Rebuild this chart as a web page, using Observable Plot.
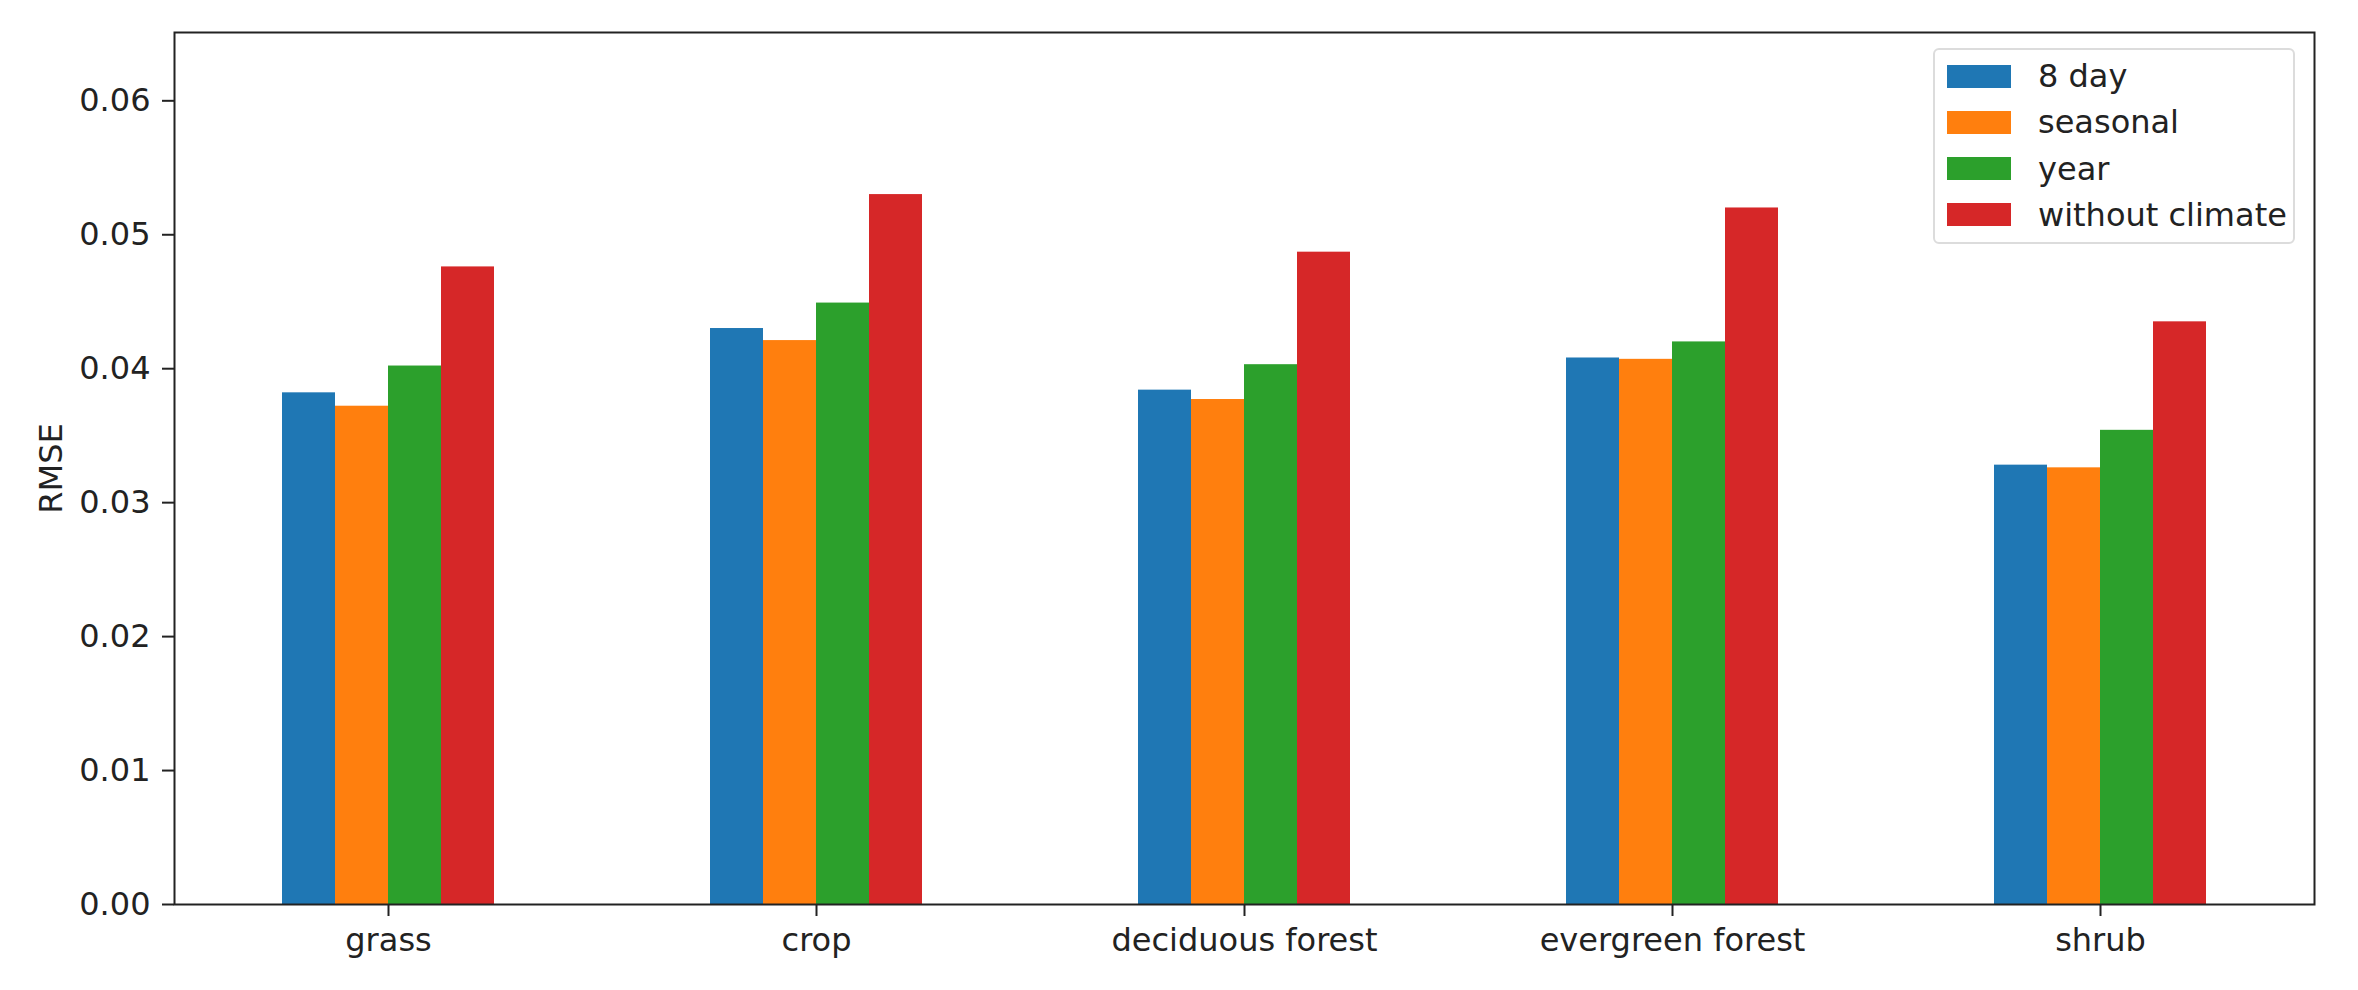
<!DOCTYPE html>
<html>
<head>
<meta charset="utf-8">
<script src="https://cdn.jsdelivr.net/npm/d3@7"></script>
<script src="https://cdn.jsdelivr.net/npm/@observablehq/plot@0.6"></script>
<style>
  html, body { margin: 0; padding: 0; background: #fff; }
  #wrap { position: relative; width: 2358px; height: 990px; font-family: "DejaVu Sans", sans-serif; }
  #legend {
    position: absolute; left: 1933px; top: 48px; width: 362px; height: 196px;
    border: 2px solid #dcdcdc; border-radius: 6px; background: rgba(255,255,255,0.85);
    box-sizing: border-box; padding: 0;
  }
  .item { position: absolute; left: 12px; height: 30px; display: flex; align-items: center; font-size: 32px; color: #222; }
  .swatch { width: 64px; height: 23px; margin-right: 27px; }
</style>
</head>
<body>
<div id="wrap"><div id="chart"></div><div id="legend"></div></div>
<script>
const categories = ["grass", "crop", "deciduous forest", "evergreen forest", "shrub"];
const series = ["8 day", "seasonal", "year", "without climate"];
const values8day = [0.0382, 0.0430, 0.0384, 0.0408, 0.0328];
const valuesSeasonal = [0.0372, 0.0421, 0.0377, 0.0407, 0.0326];
const valuesYear = [0.0402, 0.0449, 0.0403, 0.0420, 0.0354];
const valuesWithoutClimate = [0.0476, 0.0530, 0.0487, 0.0520, 0.0435];
const colors = ["#1f77b4", "#ff7f0e", "#2ca02c", "#d62728"];
const yTicks = [0, 0.01, 0.02, 0.03, 0.04, 0.05, 0.06];
const yMax = 0.0651;

const seriesValues = [values8day, valuesSeasonal, valuesYear, valuesWithoutClimate];
const rows = [];
categories.forEach((c, i) => {
  series.forEach((s, j) => rows.push({category: c, series: s, value: seriesValues[j][i]}));
});

const ink = "#222";
const chart = Plot.plot({
  width: 2358,
  height: 990,
  marginLeft: 172,
  marginRight: 43,
  marginTop: 32,
  marginBottom: 86,
  style: {fontFamily: "DejaVu Sans", fontSize: "32px", color: ink, background: "white", overflow: "visible"},
  fx: {domain: categories, padding: 0, label: null},
  x: {domain: series, paddingInner: 0, paddingOuter: 2, axis: null},
  y: {domain: [0, yMax]},
  color: {domain: series, range: colors},
  marks: [
    Plot.barY(rows, {fx: "category", x: "series", y: "value", fill: "series"}),
    Plot.axisY({ticks: yTicks, tickFormat: ".2f", tickSize: 12, tickPadding: 12, strokeWidth: 2, stroke: ink,
                label: "RMSE", labelAnchor: "center", labelArrow: false, labelOffset: 135}),
    Plot.axisFx({anchor: "bottom", tickSize: 12, tickPadding: 12, strokeWidth: 2, stroke: ink, label: null}),
    Plot.frame({facet: "super", stroke: ink, strokeWidth: 2})
  ]
});
document.getElementById("chart").appendChild(chart);

const legend = document.getElementById("legend");
series.forEach((s, j) => {
  const item = document.createElement("div");
  item.className = "item";
  item.style.top = (11 + j * 46.3) + "px";
  const sw = document.createElement("div");
  sw.className = "swatch";
  sw.style.background = colors[j];
  const t = document.createElement("span");
  t.textContent = s;
  item.appendChild(sw);
  item.appendChild(t);
  legend.appendChild(item);
});
</script>
</body>
</html>
